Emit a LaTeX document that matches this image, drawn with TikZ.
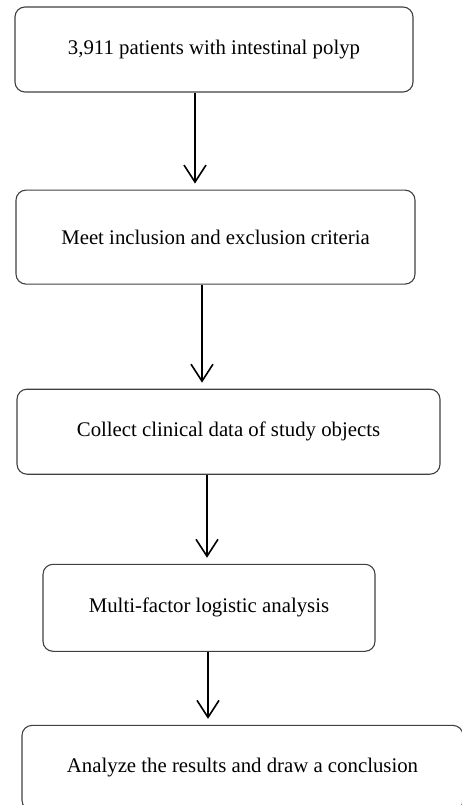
\documentclass[tikz,border=0pt]{standalone}
\usepackage{fontspec}
\setmainfont{Liberation Serif}
\usetikzlibrary{arrows.meta,positioning}

\begin{document}
\begin{tikzpicture}[
	> = {Straight Barb[length=17pt,width=22pt]}, % open arrow head
	shorten > = 6pt, % small gap before the next box
	node distance = 97pt, % vertical gap between boxes
	box/.style={rectangle, rounded corners=10pt, draw=black!75, line width=1.1pt, inner sep=0pt, minimum height=85pt, font=\fontsize{20.8}{24}\selectfont},
	flow/.style={->, line width=1.6pt},
	]

	\clip (0,0) rectangle (462pt,-805pt);

	% Boxes and their relative positions
	\node[box, minimum width=398pt] (P) at (214pt,-49.5pt) {3,911 patients with intestinal polyp};
	\node[box, minimum width=399pt, minimum height=94pt] (C) [below = 97pt of P, xshift=1.5pt] {Meet inclusion and exclusion criteria};
	\node[box, minimum width=423pt] (D) [below = 104pt of C, xshift=13pt] {Collect clinical data of study objects};
	\node[box, minimum width=332pt, minimum height=87pt] (L) [below = 89pt of D, xshift=-19.5pt] {Multi-factor logistic analysis};
	\node[box, minimum width=441pt] (R) [below = 73pt of L, xshift=33.5pt] {Analyze the results and draw a conclusion};

	% Arrows between boxes
	\draw[flow] ([xshift=-19pt]P.south) -- ([xshift=-19pt]P.south |- C.north);
	\draw[flow] ([xshift=-13.5pt]C.south) -- ([xshift=-13.5pt]C.south |- D.north);
	\draw[flow] ([xshift=-21.5pt]D.south) -- ([xshift=-21.5pt]D.south |- L.north);
	\draw[flow] ([xshift=-1pt]L.south) -- ([xshift=-1pt]L.south |- R.north);

\end{tikzpicture}
\end{document}
